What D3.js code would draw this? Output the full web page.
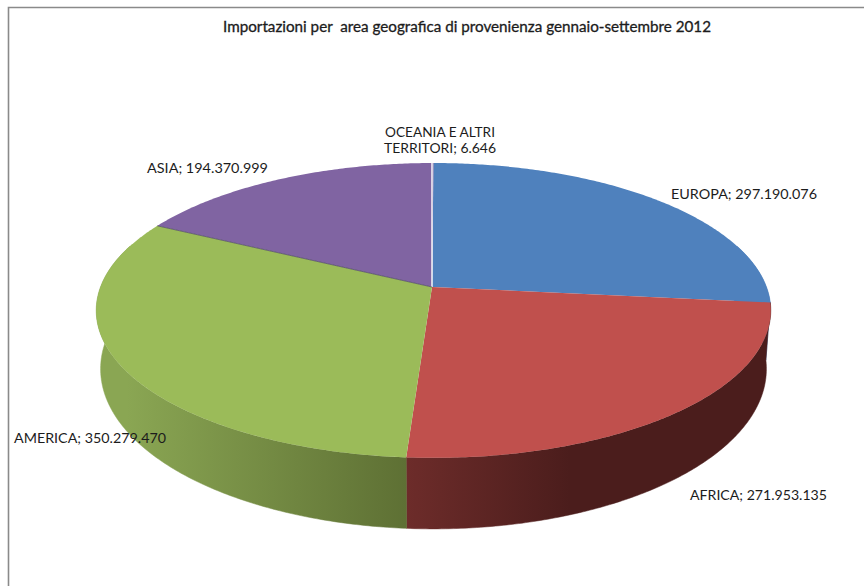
<!DOCTYPE html>
<html><head><meta charset="utf-8">
<script src="https://cdn.jsdelivr.net/npm/d3@7"></script>
<style>html,body{margin:0;padding:0;background:#fff}svg{display:block}text{font-family:Lato,"Open Sans",sans-serif;fill:#1c1c1c}</style>
</head><body><div id="chart"></div>
<script>
const categories=["EUROPA","AFRICA","AMERICA","ASIA","OCEANIA E ALTRI TERRITORI"];
const values=[297190076,271953135,350279470,194370999,6646];
const valueLabels=["297.190.076","271.953.135","350.279.470","194.370.999","6.646"];
const topColors=["#4f81bd","#c0504d","#9bbb59","#8064a2","#4bacc6"];
const sideLeft=["#4f81bd","#6d2c2a","#8aa653","#8064a2","#4bacc6"];
const sideRight=["#4f81bd","#4b1d1c","#5e7034","#8064a2","#4bacc6"];
const titleText="Importazioni per  area geografica di provenienza gennaio-settembre 2012";

const W=864,H=586;
const svg=d3.select("#chart").append("svg").attr("width",W).attr("height",H);
const defs=svg.append("defs");
svg.append("rect").attr("width",W).attr("height",H).attr("fill","#fff");
svg.append("path").attr("d",`M8.5,${H}V7.5H${W}`).attr("fill","none").attr("stroke","#8a8a8a").attr("stroke-width",1.6);

// perspective disc: angle -> screen point
const cx=433.5,apexX=432,y0=287,a=143.7,b=333,k=-0.159;
function rim(th,drop,qx,qy){
  const s=Math.sin(th),t=-Math.cos(th),D=1+k*t;
  return [cx+qx*b*s/D, y0+drop+qy*a*t/D];
}
const DROP=56.5,QX=0.987,QY=1.085;
const arcs=d3.pie().sort(null).value(d=>d).startAngle(0).endAngle(2*Math.PI)(values);
const line=d3.line();
function rimPts(a0,a1,drop,qx,qy){
  const n=Math.max(2,Math.ceil(Math.abs(a1-a0)/0.01));
  return d3.range(n+1).map(i=>rim(a0+(a1-a0)*i/n,drop,qx,qy));
}
// sides (front half only)
arcs.forEach((d,i)=>{
  const a0=Math.max(d.startAngle,Math.PI/2-0.3),a1=Math.min(d.endAngle,3*Math.PI/2+0.3);
  if(a1<=a0)return;
  const pts=rimPts(a0,a1,0,1,1).concat(rimPts(a1,a0,DROP,QX,QY));
  const xs=d3.extent(pts,p=>p[0]);
  const id="side"+i,g=defs.append("linearGradient").attr("id",id).attr("gradientUnits","userSpaceOnUse")
    .attr("x1",xs[0]).attr("x2",xs[1]).attr("y1",0).attr("y2",0);
  if(i===1){
    g.append("stop").attr("offset",0).attr("stop-color",sideLeft[i]);
    g.append("stop").attr("offset",0.45).attr("stop-color",sideRight[i]);
    g.append("stop").attr("offset",1).attr("stop-color",sideRight[i]);
  }else{
    g.append("stop").attr("offset",0).attr("stop-color",sideLeft[i]);
    g.append("stop").attr("offset",0.1).attr("stop-color",sideLeft[i]);
    g.append("stop").attr("offset",1).attr("stop-color",sideRight[i]);
  }
  svg.append("path").attr("d",line(pts)+"Z").attr("fill",`url(#${id})`).attr("stroke",`url(#${id})`).attr("stroke-width",0.5);
});
// top face
arcs.forEach((d,i)=>{
  const pts=[[apexX,y0]].concat(rimPts(d.startAngle,d.endAngle,0,1,1));
  svg.append("path").attr("d",line(pts)+"Z").attr("fill",topColors[i]);
});
// separators
const sep=(th,col,w,dx)=>{const p=rim(th,0,1,1);svg.append("line").attr("x1",apexX).attr("y1",y0)
  .attr("x2",p[0]+dx).attr("y2",p[1]).attr("stroke",col).attr("stroke-width",w);};
sep(arcs[4].startAngle,"#fff",1.4,-1.5);
sep(arcs[3].startAngle,"#4a4a5a",0.7,0);

// text
svg.append("text").attr("x",223).attr("y",32).attr("font-size",14.6)
  .attr("textLength",488).attr("lengthAdjust","spacingAndGlyphs").attr("stroke","#1c1c1c").attr("stroke-width",0.3)
  .style("white-space","pre").text(titleText);
const LAB=[[671,199,146],[690,500,137],[14,443,152],[147,173,121]];
LAB.forEach((p,i)=>{
  svg.append("text").attr("x",p[0]).attr("y",p[1]).attr("font-size",14.2)
    .attr("textLength",p[2]).attr("lengthAdjust","spacingAndGlyphs").text(categories[i]+"; "+valueLabels[i]);
});
svg.append("text").attr("x",385).attr("y",137).attr("font-size",13.8).attr("textLength",110).attr("lengthAdjust","spacingAndGlyphs").text("OCEANIA E ALTRI");
svg.append("text").attr("x",384).attr("y",153).attr("font-size",13.8).attr("textLength",112).attr("lengthAdjust","spacingAndGlyphs").text("TERRITORI; "+valueLabels[4]);
</script></body></html>
